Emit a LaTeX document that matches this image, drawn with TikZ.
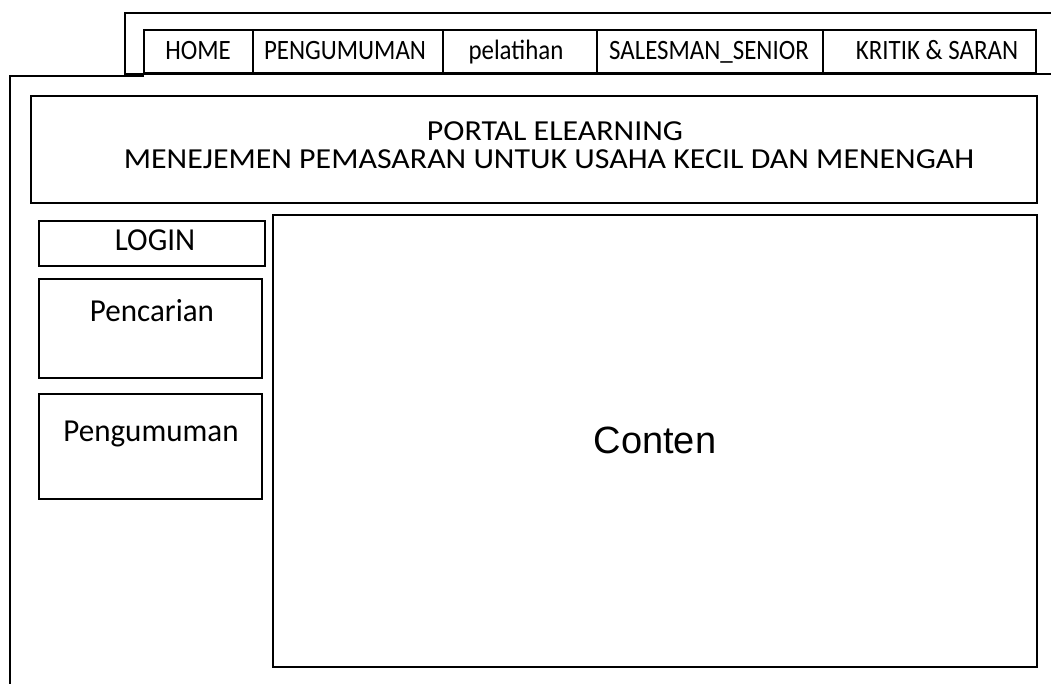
\documentclass[tikz,border=0pt]{standalone}
\usepackage{fontspec}
\setmainfont{Carlito}
\newfontfamily\contentfont{Liberation Sans}

\begin{document}
\begin{tikzpicture}[x=1pt,y=-1pt,line width=1.8pt,
  panel/.style={draw, rectangle, inner sep=0pt, outer sep=0pt, anchor=north west},
  txt/.style={inner sep=0pt, anchor=base},
  tabtext/.style={txt, font=\fontsize{28}{30}\selectfont\addfontfeature{FakeStretch=0.89}},
  sidetext/.style={txt, font=\fontsize{32}{36}\selectfont\addfontfeature{FakeStretch=0.97}},
  titletext/.style={txt, font=\fontsize{29}{30}\selectfont\addfontfeature{FakeStretch=1.1}},
]
\useasboundingbox (0,0) rectangle (1051,684);

% back window frame behind the menu bar
\draw (1051,13) -- (125,13) -- (125,74) -- (144,74);
\draw (1036,74) -- (1051,74);

% front page frame (open to the right and bottom)
\draw (10,684) -- (10,76) -- (144,76);

% menu tabs
\node[panel, minimum width=109pt, minimum height=44pt] (tHome) at (144,30) {};
\node[panel, minimum width=190pt, minimum height=44pt] (tPeng) at (253,30) {};
\node[panel, minimum width=154pt, minimum height=44pt] (tPel)  at (443,30) {};
\node[panel, minimum width=226pt, minimum height=44pt] (tSal)  at (597,30) {};
\node[panel, minimum width=213pt, minimum height=44pt] (tKrit) at (823,30) {};
\draw[line width=3pt] (tHome.south west) -- (tKrit.south east);

\node[tabtext] (lHome) at (198,60) {HOME};
\node[tabtext] (lPeng) at (345,60) {PENGUMUMAN};
\node[tabtext] (lPel)  at (516,60) {pelatihan};
\node[tabtext] (lSal)  at (709,60) {SALESMAN\_SENIOR};
\node[tabtext] (lKrit) at (937,60) {KRITIK \& SARAN};

% header
\node[panel, minimum width=1006pt, minimum height=107pt] (header) at (31,96) {};
\node[titletext] (title1) at (555,141) {PORTAL ELEARNING};
\node[titletext] (title2) at (549,169) {MENEJEMEN PEMASARAN UNTUK USAHA KECIL DAN MENENGAH};

% left column
\node[panel, minimum width=226pt, minimum height=45pt] (login) at (39,221) {};
\node[sidetext] (lLogin) at (155,251) {LOGIN};
\node[panel, minimum width=223pt, minimum height=99pt] (search) at (39,279) {};
\node[sidetext] (lSearch) at (152,321) {Pencarian};
\node[panel, minimum width=223pt, minimum height=105pt] (news) at (39,394) {};
\node[sidetext] (lNews) at (151,441) {Pengumuman};

% content area
\node[panel, minimum width=764pt, minimum height=452pt] (content) at (273,215) {};
\node[txt, font=\contentfont\fontsize{38}{44}\selectfont] (lContent) at (655,453) {Conten};
\end{tikzpicture}
\end{document}
